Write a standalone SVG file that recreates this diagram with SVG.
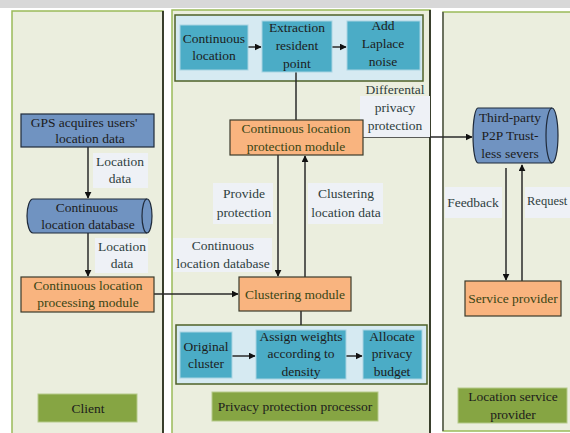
<svg xmlns="http://www.w3.org/2000/svg" width="570" height="433" viewBox="0 0 570 433">
<defs>
<marker id="ah" viewBox="0 0 10 10" refX="9" refY="5" markerWidth="7" markerHeight="7" orient="auto" markerUnits="userSpaceOnUse">
<path d="M0,0 L10,5 L0,10 z" fill="#111"/>
</marker>
</defs>
<style>
text{font-family:'Liberation Serif','DejaVu Serif',serif;font-size:13.5px;text-anchor:middle;fill:#1c1c1c}
.panel{fill:#ebeede;stroke:#9bbb59;stroke-width:1.5}
.grp{fill:#d6eaf2;stroke:#4f6228;stroke-width:1.5}
.teal{fill:#4bacc6;stroke:#a9d4e2;stroke-width:1}
.blue{fill:#7093c1;stroke:#1f2a3a;stroke-width:1.2}
.orange{fill:#f9b47f;stroke:#3b3b2b;stroke-width:1.2}
.green{fill:#86a543;stroke:#b5c98a;stroke-width:1}
.lbl{fill:#eef1f6}
.lt{fill:#2e4040}
.ot{fill:#3a4615}
.conn{stroke:#2a2a2a;stroke-width:1.5;fill:none}
</style>
<rect x="0" y="0" width="570" height="433" fill="#ffffff"/>
<rect x="0" y="0" width="570" height="8" fill="#d8d8d8"/>

<g id="client-panel">
<rect class="panel" x="12" y="11" width="151" height="426"/>
<line x1="163" y1="11" x2="163" y2="433" stroke="#111" stroke-width="1.5"/>
</g>
<g id="processor-panel">
<rect class="panel" x="172" y="10" width="258" height="427"/>
<line x1="430" y1="10" x2="430" y2="433" stroke="#111" stroke-width="1.5"/>
</g>
<g id="lsp-panel">
<rect class="panel" x="443" y="12" width="140" height="419"/>
<line x1="443" y1="12" x2="443" y2="431" stroke="#555" stroke-width="1.5"/>
</g>

<g id="top-group"><rect class="grp" x="175" y="15" width="248" height="66"/></g>
<g id="bottom-group"><rect class="grp" x="176" y="325" width="251" height="59"/></g>

<g id="connectors">
<line class="conn" x1="88" y1="147" x2="88" y2="198" marker-end="url(#ah)"/>
<line class="conn" x1="88" y1="233" x2="88" y2="276" marker-end="url(#ah)"/>
<line class="conn" x1="154" y1="294" x2="238" y2="294" marker-end="url(#ah)"/>
<line class="conn" x1="248" y1="47" x2="261" y2="47" marker-end="url(#ah)"/>
<line class="conn" x1="332" y1="47" x2="346" y2="47" marker-end="url(#ah)"/>
<line class="conn" x1="296" y1="72" x2="296" y2="120"/>
<line class="conn" x1="363" y1="137" x2="472" y2="137" marker-end="url(#ah)"/>
<line class="conn" x1="278" y1="155" x2="278" y2="276" marker-end="url(#ah)" stroke="#4a5a6a"/>
<line class="conn" x1="305" y1="277" x2="305" y2="156" marker-end="url(#ah)"/>
<line class="conn" x1="301" y1="311" x2="301" y2="325"/>
<line class="conn" x1="232" y1="356" x2="255" y2="356" marker-end="url(#ah)"/>
<line class="conn" x1="346" y1="356" x2="362" y2="356" marker-end="url(#ah)"/>
<line class="conn" x1="506" y1="168" x2="506" y2="280" marker-end="url(#ah)"/>
<line class="conn" x1="522" y1="281" x2="522" y2="165" marker-end="url(#ah)" stroke="#5a7a2a"/>
</g>

<g id="gps">
<rect class="blue" x="21" y="114" width="133" height="33"/>
<text x="84" y="127">GPS acquires users'</text>
<text x="90" y="143">location data</text>
</g>
<g id="lbl-location-data-1">
<rect class="lbl" x="93" y="153" width="55" height="35"/>
<text class="lt" x="120" y="166">Location</text>
<text class="lt" x="120" y="183">data</text>
</g>
<g id="db">
<path class="blue" d="M33,199 L147,199 A5,17 0 0 1 147,233 L33,233 A6,17 0 0 1 33,199 z"/>
<path d="M147,199 A5,17 0 0 0 147,233" fill="none" stroke="#1f2a3a" stroke-width="1.2"/>
<text x="87" y="212">Continuous</text>
<text x="88" y="229">location database</text>
</g>
<g id="lbl-location-data-2">
<rect class="lbl" x="95" y="238" width="53" height="35"/>
<text class="lt" x="122" y="251">Location</text>
<text class="lt" x="122" y="268">data</text>
</g>
<g id="processing">
<rect class="orange" x="21" y="277" width="133" height="35"/>
<text class="ot" x="88" y="290">Continuous location</text>
<text class="ot" x="88" y="307">processing module</text>
</g>
<g id="client-label">
<rect class="green" x="38" y="394" width="99" height="28"/>
<text x="88" y="413">Client</text>
</g>

<g id="cont-loc">
<rect class="teal" x="180" y="25" width="68" height="45"/>
<text x="214" y="43">Continuous</text>
<text x="214" y="60">location</text>
</g>
<g id="extraction">
<rect class="teal" x="262" y="21" width="70" height="51"/>
<text x="297" y="32">Extraction</text>
<text x="297" y="50">resident</text>
<text x="297" y="68">point</text>
</g>
<g id="laplace">
<rect class="teal" x="347" y="21" width="73" height="49"/>
<text x="383" y="30">Add</text>
<text x="383" y="48">Laplace</text>
<text x="383" y="66">noise</text>
</g>
<g id="lbl-dp">
<rect class="lbl" x="360" y="96" width="70" height="41"/>
<text class="lt" x="395" y="94">Differental</text>
<text class="lt" x="395" y="112">privacy</text>
<text class="lt" x="395" y="130">protection</text>
</g>
<g id="protection">
<rect class="orange" x="230" y="120" width="133" height="35"/>
<text class="ot" x="296" y="133">Continuous location</text>
<text class="ot" x="296" y="151">protection module</text>
</g>
<g id="lbl-provide">
<rect class="lbl" x="213" y="183" width="60" height="41"/>
<text class="lt" x="244" y="198">Provide</text>
<text class="lt" x="244" y="217">protection</text>
</g>
<g id="lbl-clustering-data">
<rect class="lbl" x="308" y="183" width="75" height="41"/>
<text class="lt" x="346" y="198">Clustering</text>
<text class="lt" x="346" y="217">location data</text>
</g>
<g id="lbl-cont-db">
<rect class="lbl" x="173" y="238" width="99" height="34"/>
<text class="lt" x="223" y="250">Continuous</text>
<text class="lt" x="223" y="268">location database</text>
</g>
<g id="clustering">
<rect class="orange" x="239" y="277" width="112" height="34"/>
<text class="ot" x="295" y="299">Clustering module</text>
</g>
<g id="original">
<rect class="teal" x="180" y="332" width="52" height="46"/>
<text x="206" y="351">Original</text>
<text x="206" y="368">cluster</text>
</g>
<g id="assign">
<rect class="teal" x="256" y="330" width="90" height="49"/>
<text x="301" y="341">Assign weights</text>
<text x="301" y="358">according to</text>
<text x="301" y="376">density</text>
</g>
<g id="allocate">
<rect class="teal" x="363" y="330" width="59" height="49"/>
<text x="392" y="341">Allocate</text>
<text x="392" y="358">privacy</text>
<text x="392" y="376">budget</text>
</g>
<g id="processor-label">
<rect class="green" x="212" y="392" width="166" height="29"/>
<text x="295" y="411">Privacy protection processor</text>
</g>

<g id="servers">
<path class="blue" d="M478,108 L552,108 A6,27.5 0 0 1 552,163 L478,163 A5,27.5 0 0 1 478,108 z"/>
<path d="M552,108 A6,27.5 0 0 0 552,163" fill="none" stroke="#1f2a3a" stroke-width="1.2"/>
<text x="510" y="122">Third-party</text>
<text x="510" y="140">P2P Trust-</text>
<text x="510" y="158">less severs</text>
</g>
<g id="lbl-feedback">
<rect class="lbl" x="445" y="187" width="57" height="31"/>
<text class="lt" x="473" y="207">Feedback</text>
</g>
<g id="lbl-request">
<rect class="lbl" x="525" y="187" width="45" height="31"/>
<text class="lt" x="527" y="205" style="text-anchor:start;font-size:12.5px">Request</text>
</g>
<g id="service-provider">
<rect class="orange" x="465" y="281" width="96" height="35"/>
<text class="ot" x="513" y="303">Service provider</text>
</g>
<g id="lsp-label">
<rect class="green" x="458" y="388" width="109" height="35"/>
<text x="513" y="401">Location service</text>
<text x="513" y="419">provider</text>
</g>
</svg>
